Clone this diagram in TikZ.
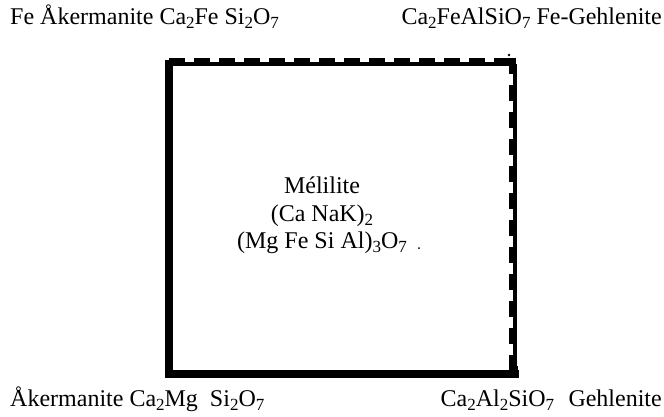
\documentclass[tikz,border=0pt]{standalone}
\usepackage{fontspec}
\setmainfont{Liberation Serif}
\newcommand{\sbs}[1]{\raisebox{-0.45ex}{\fontsize{17}{17}\selectfont #1}}
\begin{document}
\begin{tikzpicture}[x=1pt,y=-1pt,
  lbl/.style={inner sep=0pt,font=\fontsize{24}{28}\selectfont},
  solidedge/.style={line width=8pt,line cap=rect},
  thinedge/.style={line width=4pt},
  dashedge/.style={line width=7pt,dash pattern=on 16pt off 9pt}]
\useasboundingbox (0,0) rectangle (664,416);
\fill[white] (0,0) rectangle (664,416);
% corners
\coordinate (tl) at (169,64);
\coordinate (tr) at (515,64);
\coordinate (bl) at (169,374);
\coordinate (br) at (515,374);
% solid edges
\draw[solidedge] (tl) -- (bl) -- (br);
\draw[line width=5pt] (br) -- ++(0,-8);
% top edge: thin line plus dashes
\draw[thinedge] (tl) -- (tr);
\draw[dashedge] ([yshift=3pt]tl) -- ([yshift=3pt,xshift=-4pt]tr);
% right edge: thin line plus dashes
\draw[thinedge] (tr) -- ([yshift=-4pt]br);
\draw[dashedge,dash pattern=on 16pt off 11pt] ([xshift=-3pt,yshift=6pt]tr) -- ([xshift=-3pt]br);
% specks
\fill (509,55) circle (1.3pt);
\fill (419,248) circle (1pt);
% labels
\node[lbl,anchor=base west] (feak) at (10,24) {Fe Åkermanite Ca\sbs{2}Fe Si\sbs{2}O\sbs{7}};
\node[lbl,anchor=base east] (fegeh) at (662,24) {Ca\sbs{2}FeAlSiO\sbs{7} Fe-Gehlenite};
\node[lbl,anchor=base west] (ak) at (10,406) {Åkermanite Ca\sbs{2}Mg\ \ Si\sbs{2}O\sbs{7}};
\node[lbl,anchor=base east] (geh) at (662,406) {Ca\sbs{2}Al\sbs{2}SiO\sbs{7}\hspace{0.35em} Gehlenite};
\node[lbl,anchor=base] (m1) at (322,193) {Mélilite};
\node[lbl,anchor=base] (m2) at (322,221) {(Ca NaK)\sbs{2}};
\node[lbl,anchor=base] (m3) at (322,248) {(Mg Fe Si Al)\sbs{3}O\sbs{7}};
\end{tikzpicture}
\end{document}
